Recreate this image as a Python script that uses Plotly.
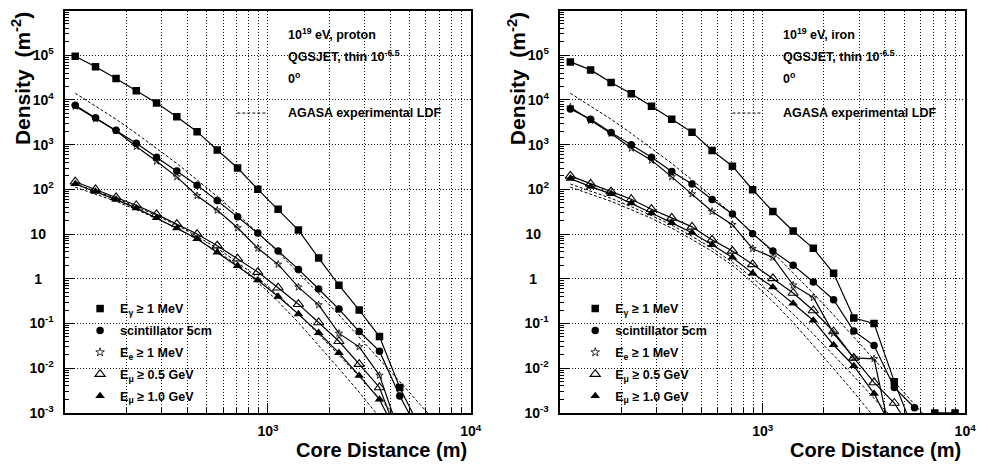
import plotly.graph_objects as go

W, H = 988, 472
FONT = "Liberation Sans, Arial, Helvetica, sans-serif"

# Core distance bins (m)
core_distance = [112, 141, 178, 224, 282, 355, 447, 562, 708, 891,
                 1122, 1413, 1778, 2239, 2818, 3548, 4467, 5623, 7079, 8913]

# ---- 10^19 eV proton (densities in m^-2) ----
p_gamma = [9.5e4, 5.5e4, 3.0e4, 1.6e4, 8.5e3, 4.2e3, 1.95e3, 760, 300, 100,
           36, 12.3, 2.9, 0.72, 0.20, 0.051, 3.7e-3, 4.6e-4]
p_scint = [7600, 4000, 2100, 1070, 525, 257, 123, 56, 24.5, 10.5,
           4.2, 1.62, 0.59, 0.21, 0.066, 0.024, 2.4e-3, 3.4e-4]
p_elec = [7200, 3800, 2040, 910, 427, 190, 72, 34, 13.8, 4.8,
          2.1, 0.65, 0.26, 0.060, 0.030, 6.9e-3, 3.3e-4]
p_mu05 = [148, 100, 66, 44, 27.5, 16.6, 10.0, 5.5, 2.8, 1.41,
          0.63, 0.27, 0.105, 0.040, 0.0123, 3.7e-3, 2.4e-4]
p_mu10 = [132, 89, 59, 38, 23, 13.5, 7.8, 3.9, 1.95, 0.93,
          0.40, 0.162, 0.062, 0.022, 6.8e-3, 2.0e-3, 2.5e-4]

# ---- 10^19 eV iron ----
fe_gamma = [7.1e4, 4.7e4, 2.45e4, 1.38e4, 7200, 3700, 1900, 740, 330, 98,
            32, 11.7, 4.8, 1.32, 0.132, 0.100, 5.0e-3, 3.5e-4, 1.0e-3, 1.0e-3]
fe_scint = [6300, 3700, 1860, 1000, 525, 250, 132, 59, 28, 10.2,
            4.2, 2.0, 0.85, 0.34, 0.068, 0.032, 3.7e-3, 1.3e-3]
fe_elec = [6900, 3470, 1780, 830, 447, 190, 79, 32, 16.2, 4.7,
           3.0, 0.72, 0.38, 0.060, 0.017, 0.0162, 1.3e-4]
fe_mu05 = [200, 132, 89, 60, 36, 23, 14.5, 7.4, 4.2, 2.1,
           1.02, 0.48, 0.195, 0.066, 0.017, 4.8e-3, 1.66e-3, 3.2e-4]
fe_mu10 = [174, 115, 79, 49, 29.5, 17.8, 10.7, 5.75, 3.0, 1.32,
           0.65, 0.28, 0.117, 0.033, 0.0112, 2.7e-3, 3.5e-4]

# ---- AGASA experimental lateral distribution functions ----
agasa_elec = [14100, 7400, 3700, 1780, 830, 380, 162, 69, 27.5, 10.7,
              3.9, 1.38, 0.47, 0.155, 0.050, 0.0158, 5.0e-3, 1.55e-3, 4.8e-4]
agasa_mu_a = [132, 91, 63, 41, 26, 15.8, 8.9, 4.8, 2.34, 1.05,
              0.43, 0.162, 0.058, 0.0195, 6.6e-3, 2.1e-3, 6.9e-4]
agasa_mu_b = [112, 78, 54, 35, 22.4, 13.5, 7.6, 4.1, 2.0, 0.83,
              0.31, 0.105, 0.033, 9.8e-3, 2.9e-3, 7.9e-4, 2.2e-4]

legend_labels = ["E<sub>γ</sub> ≥ 1 MeV", "scintillator 5cm", "E<sub>e</sub> ≥ 1 MeV",
                 "E<sub>μ</sub> ≥ 0.5 GeV", "E<sub>μ</sub> ≥ 1.0 GeV"]
marker_styles = [("square", 7.5, 0), ("circle", 7.5, 0), ("star-open", 5.5, 0.8),
                 ("triangle-up-open", 9, 1.1), ("triangle-up", 8.5, 0)]

y_tickvals = [1e-3, 1e-2, 1e-1, 1, 10, 1e2, 1e3, 1e4, 1e5]
y_ticktext = ["10<sup>-3</sup>", "10<sup>-2</sup>", "10<sup>-1</sup>", "1\u00a0\u00a0\u00a0",
              "10\u00a0\u00a0", "10<sup>2</sup>", "10<sup>3</sup>", "10<sup>4</sup>", "10<sup>5</sup>"]
x_tickvals = [1e3, 1e4]
x_ticktext = ["10<sup>3</sup>", "10<sup>4</sup>"]


def px(x):
    return x / W


def py(y):
    return 1 - y / H


panels = [
    dict(xa="x", ya="y", left=66, right=476, legend="legend", primary="proton",
         series=[p_gamma, p_scint, p_elec, p_mu05, p_mu10]),
    dict(xa="x2", ya="y2", left=566.7, right=976, legend="legend2", primary="iron",
         series=[fe_gamma, fe_scint, fe_elec, fe_mu05, fe_mu10]),
]

fig = go.Figure()
BLACK = "#000000"

for pi, p in enumerate(panels):
    # AGASA reference curves (dashed)
    for ref in (agasa_elec, agasa_mu_a, agasa_mu_b):
        fig.add_trace(go.Scatter(
            x=core_distance[:len(ref)], y=ref, mode="lines",
            line=dict(color=BLACK, width=1, dash="3px,2px"),
            xaxis=p["xa"], yaxis=p["ya"], showlegend=False, hoverinfo="skip"))
    # simulated densities
    for vals, (sym, size, lw) in zip(p["series"], marker_styles):
        fig.add_trace(go.Scatter(
            x=core_distance[:len(vals)], y=vals, mode="lines+markers",
            line=dict(color=BLACK, width=1.2),
            marker=dict(symbol=sym, size=size, color=BLACK,
                        line=dict(color=BLACK, width=lw)),
            xaxis=p["xa"], yaxis=p["ya"], showlegend=False))
    # legend keys (markers only)
    for i, (label, (sym, size, lw)) in enumerate(zip(legend_labels, marker_styles)):
        fig.add_trace(go.Scatter(
            x=[None], y=[None], mode="markers", name=label,
            marker=dict(symbol=sym, size=size + (1 if sym == "star-open" else 0), color=BLACK,
                        line=dict(color=BLACK, width=lw)),
            xaxis=p["xa"], yaxis=p["ya"], legend=p["legend"],
            legendgroup=f"{p['legend']}_{i}"))

axis_common = dict(
    type="log", showline=True, mirror=True, linecolor=BLACK, linewidth=1.5,
    ticks="inside", tickcolor=BLACK, tickwidth=1,
    tickfont=dict(family=FONT, size=14, color=BLACK, weight="bold"),
    gridcolor="#111111", gridwidth=1, griddash="1px,2px", zeroline=False,
)

x_minor = [k * 10 ** e for e in (2, 3) for k in range(2, 10)]
y_minor = [k * 10.0 ** e for e in range(-3, 6) for k in range(2, 10)]

layout = dict(
    width=W, height=H, margin=dict(l=0, r=0, t=0, b=0),
    paper_bgcolor="white", plot_bgcolor="white",
    annotations=[], shapes=[],
)

for idx, p in enumerate(panels):
    suffix = "" if idx == 0 else "2"
    layout["xaxis" + suffix] = dict(
        axis_common, domain=[px(p["left"]), px(p["right"])], range=[2, 4],
        anchor="y" + suffix, tickmode="array", tickvals=x_tickvals, ticktext=x_ticktext,
        ticklen=10, showgrid=True, ticklabelstandoff=5,
        minor=dict(tickmode="array", tickvals=x_minor, ticks="inside", ticklen=5,
                   tickcolor=BLACK, showgrid=True, gridcolor="#111111",
                   griddash="1px,2px", gridwidth=1))
    layout["yaxis" + suffix] = dict(
        axis_common, domain=[py(420), py(10.7)], range=[-3, 6],
        anchor="x" + suffix, tickmode="array", tickvals=y_tickvals, ticktext=y_ticktext,
        ticklen=9, showgrid=True, ticklabelstandoff=7,
        minor=dict(tickmode="array", tickvals=y_minor, ticks="inside", ticklen=4,
                   tickcolor=BLACK, showgrid=False))
    layout["legend" + ("" if idx == 0 else "2")] = dict(
        x=px(p["left"] + 15), y=py(299), xanchor="left", yanchor="top",
        bgcolor="rgba(0,0,0,0)", borderwidth=0, tracegroupgap=2.6,
        font=dict(family=FONT, size=12.5, color=BLACK, weight="bold"),
        itemclick=False, itemdoubleclick=False)

    left, right = p["left"], p["right"]
    tx = left + 223
    text_font = dict(family=FONT, size=12.5, color=BLACK, weight="bold")
    for txt, yy in [(f"10<sup>19</sup> eV, {p['primary']}", 35),
                    ("QGSJET, thin 10<sup>-6.5</sup>", 57),
                    ("0<sup>o</sup>", 79),
                    ("AGASA experimental LDF", 115)]:
        layout["annotations"].append(dict(
            text=txt, x=px(tx), y=py(yy), xref="paper", yref="paper",
            xanchor="left", yanchor="middle", showarrow=False, font=text_font))
    layout["shapes"].append(dict(
        type="line", xref="paper", yref="paper",
        x0=px(left + 174), x1=px(left + 204), y0=py(115), y1=py(115),
        line=dict(color=BLACK, width=1, dash="3px,2px")))
    # axis titles
    layout["annotations"].append(dict(
        text="Core Distance (m)", x=px(right - 2), y=py(458), xref="paper", yref="paper",
        xanchor="right", yanchor="middle", showarrow=False,
        font=dict(family=FONT, size=20, color=BLACK, weight="bold")))
    layout["annotations"].append(dict(
        text="Density\u00a0\u00a0(m<sup>-2</sup>)", x=px(left - 44), y=py(10), textangle=-90,
        xref="paper", yref="paper", xanchor="center", yanchor="top", showarrow=False,
        font=dict(family=FONT, size=21, color=BLACK, weight="bold")))

fig.update_layout(**layout)
fig.write_html("out.html")
